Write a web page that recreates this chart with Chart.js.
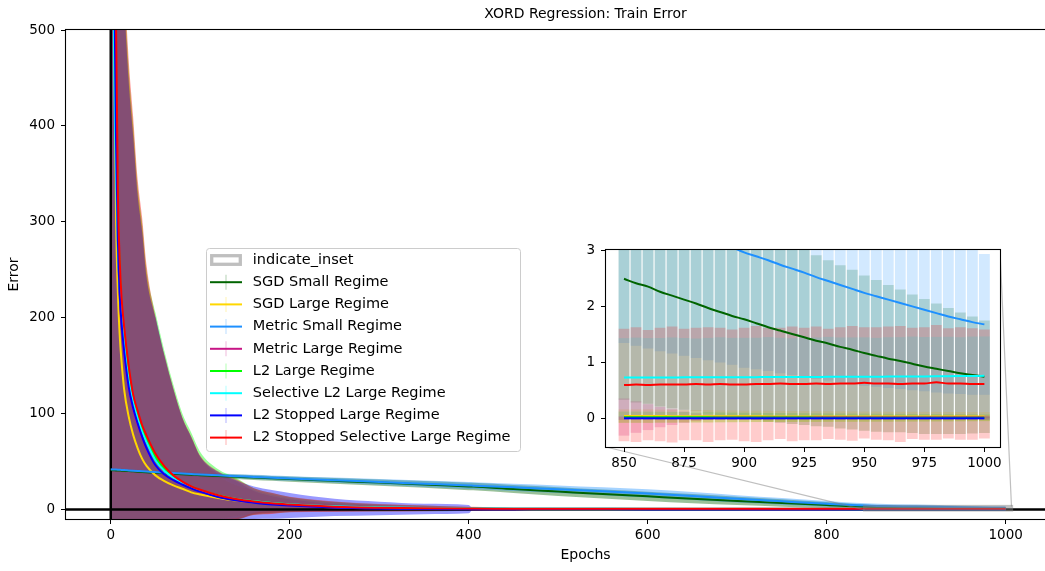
<!DOCTYPE html>
<html>
<head>
<meta charset="utf-8">
<title>XORD Regression: Train Error</title>
<script src="https://cdn.jsdelivr.net/npm/chart.js@4.4.1/dist/chart.umd.min.js"></script>
<style>
  html, body { margin: 0; padding: 0; background: #fff; overflow: hidden; }
  #figure { position: relative; width: 1045px; height: 571px; overflow: hidden; background: #fff; }
  #mainCanvas { position: absolute; left: 0; top: 0; }
  #insetCanvas { position: absolute; left: 560px; top: 236px; }
</style>
</head>
<body>
<div id="figure">
  <canvas id="mainCanvas" width="1115" height="571"></canvas>
  <canvas id="insetCanvas" width="460" height="240"></canvas>
</div>
<script>
const FONT_FAMILY = "'DejaVu Sans', 'Liberation Sans', sans-serif";
Chart.defaults.font.family = FONT_FAMILY;
Chart.defaults.color = '#000';

// ---- axis settings ----
const mainXRange = [-50, 1111];
const mainYRange = [-10, 500];
const xTicksMain = [0, 200, 400, 600, 800, 1000];
const yTicksMain = [0, 100, 200, 300, 400, 500];
const insetXRange = [842.5, 1006.5];
const insetYRange = [-0.5, 3];
const xTicksInset = [850, 875, 900, 925, 950, 975, 1000];
const yTicksInset = [0, 1, 2, 3];
const INSET_LEFT = 560, INSET_TOP = 236;

// ---- full training run, sampled epochs ----
const mainEpochs = [0,2,4,6,8,10,12,15,20,25, 30,35,40,50,60,70,80,90,100,120, 140,160,180,200,250,300,350,400,405,450, 500,550,600,650,700,750,800,850,900,950, 1000];

const sgdSmallMean = [41.0,40.9,40.8,40.7,40.6,40.5,40.4,40.2,40.0,39.7, 39.4,39.1,38.8,38.2,37.7,37.2,36.7,36.2,35.7,34.8, 34.0,33.2,32.4,31.6,29.8,28.0,26.1,24.0,23.8,21.2, 18.6,16.0,13.6,11.2,8.9,6.7,4.6,2.49,1.77,1.17, 0.75];
const sgdSmallStd = [1.5,1.5,1.5,1.5,1.55,1.55,1.55,1.6,1.6,1.65, 1.7,1.7,1.75,1.8,1.9,1.95,2.0,2.05,2.1,2.2, 2.35,2.45,2.55,2.7,3.0,3.3,3.6,3.9,3.9,4.2, 4.5,4.7,4.9,4.8,4.4,3.8,3.0,2.15,1.76,1.38, 1.0];

const sgdLargeMean = [1500,820,480,300,225,182,155,125,97,78, 64,53,45.5,35.5,29.5,25,21.5,17.8,15.5,12, 9.2,7.2,5.7,4.6,2.6,1.5,0.9,0.55,0.52,0.35, 0.24,0.17,0.13,0.1,0.08,0.07,0.06,0.05,0.045,0.041, 0.04];
const sgdLargeStd = [2380,1702,1169,816,629,516,466,418,359,320, 271,243,202,163,129,99,72,56,38.5,23, 16,13,10,7.5,4.5,3,2,1.2,1.15,0.7, 0.5,0.4,0.3,0.25,0.2,0.18,0.15,0.12,0.1,0.09, 0.08];

const metricSmallMean = [41.8,41.7,41.6,41.5,41.4,41.3,41.2,41.0,40.7,40.4, 40.1,39.8,39.5,38.9,38.4,37.9,37.4,36.9,36.4,35.5, 34.7,33.9,33.1,32.3,30.5,28.6,26.8,25.0,24.8,23.0, 21.0,18.9,16.6,14.0,11.0,8.4,5.9,3.8,2.96,2.24, 1.68];
const metricSmallStd = [1.2,1.2,1.2,1.2,1.25,1.25,1.25,1.3,1.3,1.35, 1.35,1.4,1.4,1.5,1.55,1.6,1.7,1.75,1.8,1.9, 2.05,2.15,2.3,2.4,2.7,3.0,3.3,3.6,3.6,3.8, 4.0,4.2,4.3,4.2,3.9,3.5,3.0,2.45,2.05,1.65, 1.25];

const metricLargeMean = [1550,880,540,370,275,222,192,162,126,104, 88,75,63,46,36.5,30.5,26,22,18.6,13.2, 9.6,7.1,5.3,4.1,2.1,1.1,0.6,0.3,0.28,0.15, 0.1,0.07,0.05,0.045,0.04,0.035,0.032,0.032,0.03,0.03, 0.03];
const metricLargeStd = [2250,1590,1075,722,561,462,416,370,320,286, 240,215,179,154,123.5,94.5,69,53,36.4,24, 20,12,8.5,6.5,3.5,2.2,1.5,1.1,1.1,0.85, 0.7,0.6,0.52,0.46,0.42,0.38,0.35,0.33,0.04,0.03, 0.03];

const l2LargeMean = [1700,1000,600,420,310,250,215,182,142,116, 99,85,73.5,54.5,42.5,34.3,28.3,23.7,20.1,14.7, 11,8.4,6.6,5.2,2.9,1.7,1.0,0.6,0.57,0.35, 0.22,0.15,0.1,0.08,0.06,0.05,0.04,0.03,0.025,0.021, 0.02];
const l2LargeStd = [2220,1548,1066,707,552,456,412,367,319,286, 239,214,176.5,150.5,122.5,95.7,71.7,56.3,39.9,27.3, 22,13.6,10.4,7.8,5.1,3.8,3,1.9,1.8,0.4, 0.3,0.25,0.2,0.18,0.15,0.12,0.1,0.1,0.084,0.072, 0.06];

const selL2Mean = [1200,700,450,340,270,230,205,172,135,112, 95,81,70,51,40,33,27.5,23,19.5,14.5, 11,8.5,6.8,5.5,3.2,2.2,1.6,1.25,1.23,1.05, 0.93,0.86,0.81,0.78,0.76,0.75,0.74,0.735,0.741,0.749, 0.765];
const selL2Std = [2600,1770,1165,752,566,454,403,360,311,278, 233,209,172,149,120,92,67.5,52,35.5,25, 20,12,8.5,6.5,4,2.5,1.6,1.2,1.18,1.0, 0.9,0.85,0.8,0.78,0.76,0.75,0.74,0.7,0.7,0.7, 0.7];

const l2StopMean = [1600,900,550,380,280,225,195,165,128,106, 90,76,64,46,36.5,30.5,26,22,18.5,13, 9.5,7,5.2,4,2.0,1.0,0.5,0.22,0.2,0.08, 0.05,0.04,0.03,0.025,0.02,0.02,0.02,0.012,0.012,0.012, 0.012];
const l2StopStd = [2200,1570,1065,712,556,459,413,367,318,284, 238,214,178,154,123.5,94.5,69,53,36.5,26, 21,17,15,13,9,7,5.5,4.3,0.05,0.04, 0.04,0.03,0.03,0.03,0.03,0.03,0.03,0.03,0.03,0.03, 0.03];

const l2StopSelMean = [2000,1200,750,500,330,260,222,190,150,120, 103,88,77,58,45,35.5,29,24,20.5,14.8, 10.8,8.2,6.3,5.1,2.8,1.7,1.1,0.85,0.84,0.72, 0.66,0.63,0.62,0.61,0.61,0.6,0.61,0.6,0.61,0.64, 0.62];
const l2StopSelStd = [2100,1400,950,650,550,460,418,370,320,290, 242,217,178,143,116,90.5,67,52,35.5,25, 21,14,11,8,5.5,4,3,2,1.9,1.1, 1.05,1.02,1.0,1.0,1.0,1.0,1.0,1.0,1.01,0.99, 0.97];

// ---- last 150 epochs, finer sampling ----
const insetEpochs = [850,855,860,865,870,875,880,885,890,895, 900,905,910,915,920,925,930,935,940,945, 950,955,960,965,970,975,980,985,990,995, 1000];

const sgdSmallInsetMean = [2.49,2.41,2.35,2.26,2.19,2.12,2.05,1.97,1.90,1.83, 1.77,1.70,1.63,1.57,1.51,1.45,1.39,1.34,1.28,1.23, 1.17,1.12,1.07,1.03,0.98,0.93,0.89,0.85,0.81,0.78, 0.75];
const sgdSmallInsetStd = [2.15,2.12,2.08,2.04,2.0,1.96,1.92,1.88,1.84,1.8, 1.76,1.72,1.68,1.64,1.6,1.56,1.52,1.48,1.45,1.42, 1.38,1.35,1.31,1.27,1.23,1.2,1.16,1.12,1.08,1.04, 1.0];
const sgdLargeInsetMean = [0.05,0.05,0.05,0.05,0.048,0.048,0.047,0.047,0.046,0.046, 0.045,0.045,0.044,0.044,0.043,0.043,0.042,0.042,0.042,0.041, 0.041,0.041,0.04,0.04,0.04,0.04,0.04,0.04,0.04,0.04, 0.04];
const sgdLargeInsetStd = [0.12,0.12,0.12,0.115,0.115,0.11,0.11,0.11,0.105,0.105, 0.1,0.1,0.1,0.098,0.097,0.096,0.095,0.094,0.093,0.092, 0.09,0.089,0.088,0.087,0.086,0.085,0.084,0.083,0.082,0.081, 0.08];
const metricSmallInsetMean = [3.80,3.71,3.62,3.53,3.45,3.37,3.29,3.21,3.13,3.05, 2.96,2.89,2.82,2.74,2.67,2.60,2.52,2.45,2.38,2.31, 2.24,2.18,2.12,2.06,2.00,1.94,1.88,1.82,1.77,1.72, 1.68];
const metricSmallInsetStd = [2.45,2.41,2.37,2.33,2.29,2.25,2.21,2.17,2.13,2.09, 2.05,2.01,1.97,1.93,1.89,1.85,1.81,1.77,1.73,1.69, 1.65,1.61,1.57,1.53,1.49,1.45,1.41,1.37,1.33,1.29, 1.25];
const metricLargeInsetMean = [0.032,0.032,0.031,0.031,0.031,0.030,0.030,0.030,0.030,0.030, 0.030,0.030,0.030,0.030,0.030,0.030,0.030,0.030,0.030,0.030, 0.030,0.030,0.030,0.030,0.030,0.030,0.030,0.030,0.030,0.030, 0.030];
const metricLargeInsetStd = [0.33,0.28,0.23,0.18,0.14,0.10,0.07,0.05,0.04,0.04, 0.04,0.035,0.035,0.03,0.03,0.03,0.03,0.03,0.03,0.03, 0.03,0.03,0.03,0.03,0.03,0.03,0.03,0.03,0.03,0.03, 0.03];
const l2LargeInsetMean = [0.03,0.03,0.029,0.029,0.028,0.028,0.027,0.027,0.026,0.026, 0.025,0.025,0.024,0.024,0.023,0.023,0.022,0.022,0.022,0.021, 0.021,0.021,0.02,0.02,0.02,0.02,0.02,0.02,0.02,0.02, 0.02];
const l2LargeInsetStd = [0.1,0.1,0.1,0.098,0.096,0.094,0.092,0.09,0.088,0.086, 0.084,0.082,0.08,0.079,0.078,0.077,0.076,0.075,0.074,0.073, 0.072,0.071,0.07,0.069,0.068,0.067,0.066,0.065,0.064,0.062, 0.06];
const selL2InsetMean = [0.735,0.735,0.736,0.737,0.737,0.738,0.738,0.739,0.740,0.740, 0.741,0.742,0.743,0.743,0.744,0.745,0.746,0.747,0.747,0.748, 0.749,0.750,0.751,0.752,0.753,0.755,0.757,0.759,0.761,0.763, 0.765];
const selL2InsetStd = [0.70,0.71,0.70,0.70,0.71,0.70,0.69,0.70,0.71,0.70, 0.70,0.70,0.71,0.70,0.69,0.70,0.70,0.71,0.70,0.70, 0.70,0.69,0.70,0.70,0.71,0.70,0.70,0.70,0.69,0.70, 0.70];
const l2StopInsetMean = [0.012,0.012,0.011,0.012,0.012,0.011,0.012,0.012,0.012,0.011, 0.012,0.012,0.011,0.012,0.012,0.012,0.011,0.012,0.012,0.012, 0.011,0.012,0.012,0.012,0.011,0.012,0.012,0.012,0.012,0.011, 0.012];
const l2StopInsetStd = [0.03,0.03,0.03,0.03,0.03,0.03,0.03,0.03,0.03,0.03, 0.03,0.03,0.03,0.03,0.03,0.03,0.03,0.03,0.03,0.03, 0.03,0.03,0.03,0.03,0.03,0.03,0.03,0.03,0.03,0.03, 0.03];
const l2StopSelInsetMean = [0.60,0.61,0.60,0.61,0.61,0.61,0.62,0.61,0.62,0.61, 0.61,0.62,0.62,0.63,0.62,0.62,0.63,0.62,0.63,0.63, 0.64,0.63,0.63,0.62,0.63,0.63,0.65,0.63,0.63,0.62, 0.62];
const l2StopSelInsetStd = [1.0,1.02,0.98,1.01,1.03,0.99,1.0,1.02,1.0,0.98, 1.01,1.03,1.0,0.99,1.02,1.0,1.01,0.98,1.0,1.02, 0.99,1.0,1.01,1.03,0.99,1.0,1.02,0.98,1.0,0.99, 0.97];

// ---- series: label, colour and the arrays above ----
const seriesLabels = ['SGD Small Regime', 'SGD Large Regime', 'Metric Small Regime', 'Metric Large Regime',
  'L2 Large Regime', 'Selective L2 Large Regime', 'L2 Stopped Large Regime', 'L2 Stopped Selective Large Regime'];
const seriesColors = ['#006400', '#FFD700', '#1E90FF', '#C71585', '#00FF00', '#00FFFF', '#0000FF', '#FF0000'];
const seriesMeans = [sgdSmallMean, sgdLargeMean, metricSmallMean, metricLargeMean, l2LargeMean, selL2Mean, l2StopMean, l2StopSelMean];
const seriesStds = [sgdSmallStd, sgdLargeStd, metricSmallStd, metricLargeStd, l2LargeStd, selL2Std, l2StopStd, l2StopSelStd];
const seriesInsetMeans = [sgdSmallInsetMean, sgdLargeInsetMean, metricSmallInsetMean, metricLargeInsetMean, l2LargeInsetMean, selL2InsetMean, l2StopInsetMean, l2StopSelInsetMean];
const seriesInsetStds = [sgdSmallInsetStd, sgdLargeInsetStd, metricSmallInsetStd, metricLargeInsetStd, l2LargeInsetStd, selL2InsetStd, l2StopInsetStd, l2StopSelInsetStd];

function rgba(hex, a) {
  const n = parseInt(hex.slice(1), 16);
  return `rgba(${(n >> 16) & 255},${(n >> 8) & 255},${n & 255},${a})`;
}

// ---- shared plugins ----
const framePlugin = {
  id: 'frame',
  afterDatasetsDraw(chart) {
    const { ctx, chartArea: a } = chart;
    ctx.save();
    ctx.strokeStyle = '#000';
    ctx.lineWidth = 1.1;
    ctx.strokeRect(Math.round(a.left) - 0.5, Math.round(a.top) - 0.5,
      Math.round(a.right - a.left) + 1, Math.round(a.bottom - a.top) + 1);
    ctx.restore();
  }
};

const facePlugin = {
  id: 'face',
  beforeDatasetsDraw(chart) {
    const { ctx, chartArea: a } = chart;
    ctx.save();
    ctx.fillStyle = '#fff';
    ctx.fillRect(a.left, a.top, a.right - a.left, a.bottom - a.top);
    ctx.restore();
  }
};

function axisCommon(tickValues, fit) {
  return {
    type: 'linear',
    offset: false,
    afterBuildTicks: s => { s.ticks = tickValues.map(v => ({ value: v })); },
    afterFit: fit,
    grid: { offset: false, drawOnChartArea: false, drawTicks: true, tickLength: 5, color: '#000', lineWidth: 1 },
    border: { display: false },
    ticks: { color: '#000', font: { size: 13.5 }, autoSkip: false, maxRotation: 0, callback: v => String(v) }
  };
}

// ---- zoomed view: last 150 epochs ----
let insetChart = null;
{
  const datasets = [];
  seriesLabels.forEach((label, i) => {
    const m = seriesInsetMeans[i], s = seriesInsetStds[i];
    datasets.push({
      type: 'bar', label: label + ' spread',
      data: insetEpochs.map((e, k) => ({ x: e, y: [m[k] - s[k], m[k] + s[k]] })),
      backgroundColor: rgba(seriesColors[i], 0.2), borderWidth: 0,
      grouped: false, barPercentage: 0.9, categoryPercentage: 1,
      order: 300 - i
    });
  });
  seriesLabels.forEach((label, i) => {
    const m = seriesInsetMeans[i];
    datasets.push({
      type: 'line', label,
      data: insetEpochs.map((e, k) => ({ x: e, y: m[k] })),
      borderColor: seriesColors[i], borderWidth: 2, pointRadius: 0,
      cubicInterpolationMode: 'monotone', fill: false, order: 50 - i
    });
  });

  const xs = axisCommon(xTicksInset, s => { s.height = 29; });
  xs.min = insetXRange[0]; xs.max = insetXRange[1];
  xs.ticks.padding = 3;
  const ys = axisCommon(yTicksInset, s => { s.width = 46; });
  ys.min = insetYRange[0]; ys.max = insetYRange[1];
  ys.ticks.padding = 6;

  insetChart = new Chart(document.getElementById('insetCanvas'), {
    type: 'line',
    data: { datasets },
    options: {
      responsive: false, animation: false, events: [],
      layout: { padding: { left: 0, right: 20, top: 14, bottom: 0 } },
      plugins: { legend: { display: false }, tooltip: { enabled: false } },
      scales: { x: xs, y: ys }
    },
    plugins: [facePlugin, framePlugin]
  });
}

// ---- main view ----
const insetMarker = {
  id: 'insetMarker',
  afterDatasetsDraw(chart) {
    if (!insetChart) return;
    const { ctx } = chart;
    const xs = chart.scales.x, ys = chart.scales.y;
    const ix = insetChart.scales.x, iy = insetChart.scales.y, ia = insetChart.chartArea;
    const x0 = xs.getPixelForValue(ix.min), x1 = xs.getPixelForValue(ix.max);
    const yTop = ys.getPixelForValue(iy.max), yBot = ys.getPixelForValue(iy.min);
    ctx.save();
    ctx.strokeStyle = 'rgba(128,128,128,0.5)';
    ctx.lineWidth = 1.2;
    ctx.beginPath();
    ctx.moveTo(INSET_LEFT + ia.left, INSET_TOP + ia.bottom);
    ctx.lineTo(x0, yBot);
    ctx.moveTo(INSET_LEFT + ia.right, INSET_TOP + ia.top);
    ctx.lineTo(x1, yTop);
    ctx.stroke();
    ctx.lineWidth = 3.3;
    ctx.strokeRect(x0, yTop, x1 - x0, yBot - yTop);
    ctx.restore();
  }
};

const legendBox = {
  id: 'legendBox',
  afterDraw(chart, args, o) {
    const { ctx, chartArea: a } = chart;
    const left = a.left + o.offsetX, top = a.top + o.offsetY;
    ctx.save();
    ctx.beginPath();
    ctx.roundRect(left, top, o.width, o.height, 3);
    ctx.fillStyle = 'rgba(255,255,255,0.8)';
    ctx.fill();
    ctx.strokeStyle = '#cccccc';
    ctx.lineWidth = 1;
    ctx.stroke();
    ctx.font = `${o.fontSize}px ${FONT_FAMILY}`;
    ctx.textBaseline = 'middle';
    const hx0 = left + 3.5, hx1 = left + 35.5, hmid = (hx0 + hx1) / 2, tx = left + 46.3;
    o.entries.forEach((en, k) => {
      const y = top + o.firstRow + k * o.rowStep;
      if (en.patch) {
        ctx.strokeStyle = 'rgba(128,128,128,0.5)';
        ctx.lineWidth = 3.3;
        ctx.strokeRect(hx0 + 1.7, y - 4.3, hx1 - hx0 - 3.4, 8.6);
      } else {
        ctx.strokeStyle = rgba(en.color, 0.2);
        ctx.lineWidth = 1.5;
        ctx.beginPath(); ctx.moveTo(hmid, y - 7.5); ctx.lineTo(hmid, y + 7.5); ctx.stroke();
        ctx.strokeStyle = en.color;
        ctx.lineWidth = 2;
        ctx.beginPath(); ctx.moveTo(hx0, y); ctx.lineTo(hx1, y); ctx.stroke();
      }
      ctx.fillStyle = '#000';
      ctx.fillText(en.label, tx, y);
    });
    ctx.restore();
  }
};

{
  const datasets = [];
  // spread bands (mean ± std), filled between an upper and a lower edge
  seriesLabels.forEach((label, i) => {
    const m = seriesMeans[i], s = seriesStds[i];
    const upperIndex = datasets.length;
    datasets.push({
      type: 'line', label: label + ' upper',
      data: mainEpochs.map((e, k) => ({ x: e, y: m[k] + s[k] })),
      borderColor: 'rgba(0,0,0,0)', borderWidth: 0, pointRadius: 0,
      cubicInterpolationMode: 'monotone',
      fill: upperIndex + 1, backgroundColor: rgba(seriesColors[i], 0.4),
      order: 300 - 2 * i
    });
    datasets.push({
      type: 'line', label: label + ' lower',
      data: mainEpochs.map((e, k) => ({ x: e, y: m[k] - s[k] })),
      borderColor: 'rgba(0,0,0,0)', borderWidth: 0, pointRadius: 0,
      cubicInterpolationMode: 'monotone', fill: false,
      order: 299 - 2 * i
    });
  });
  // zero reference lines
  const zeroLevel = 0;
  datasets.push({
    type: 'line', label: 'zero error',
    data: mainXRange.map(x => ({ x, y: zeroLevel })),
    borderColor: '#000', borderWidth: 2.5, pointRadius: 0, fill: false, order: 100
  });
  datasets.push({
    type: 'line', label: 'epoch zero',
    data: mainYRange.map(y => ({ x: zeroLevel, y })),
    borderColor: '#000', borderWidth: 2.5, pointRadius: 0, fill: false, order: 100
  });
  // mean curves
  seriesLabels.forEach((label, i) => {
    const m = seriesMeans[i];
    datasets.push({
      type: 'line', label,
      data: mainEpochs.map((e, k) => ({ x: e, y: m[k] })),
      borderColor: seriesColors[i], borderWidth: 2, pointRadius: 0,
      cubicInterpolationMode: 'monotone', fill: false, order: 50 - i
    });
  });

  const xs = axisCommon(xTicksMain, s => { s.height = 52; });
  xs.min = mainXRange[0]; xs.max = mainXRange[1];
  xs.ticks.padding = 3;
  xs.title = { display: true, text: 'Epochs', color: '#000', font: { size: 14 }, padding: { top: 0, bottom: 7 } };
  const ys = axisCommon(yTicksMain, s => { s.width = 66; });
  ys.min = mainYRange[0]; ys.max = mainYRange[1];
  ys.ticks.padding = 6;
  ys.title = { display: true, text: 'Error', color: '#000', font: { size: 14 }, padding: { top: 5.6, bottom: 0 } };

  const legendEntries = [{ label: 'indicate_inset', patch: true }]
    .concat(seriesLabels.map((label, i) => ({ label, color: seriesColors[i] })));

  new Chart(document.getElementById('mainCanvas'), {
    type: 'line',
    data: { datasets },
    options: {
      responsive: false, animation: false, events: [],
      layout: { padding: { left: 0, right: 10, top: 0, bottom: 0 } },
      plugins: {
        legend: { display: false },
        tooltip: { enabled: false },
        title: {
          display: true, text: 'XORD Regression: Train Error', fullSize: false,
          color: '#000', font: { size: 14, weight: 'normal' }, padding: { top: 6, bottom: 7.2 }
        },
        legendBox: {
          offsetX: 140.5, offsetY: 218.5, width: 314, height: 203,
          firstRow: 11.5, rowStep: 22.2, fontSize: 14.5, entries: legendEntries
        }
      },
      scales: { x: xs, y: ys }
    },
    plugins: [framePlugin, insetMarker, legendBox]
  });
}
</script>
</body>
</html>
